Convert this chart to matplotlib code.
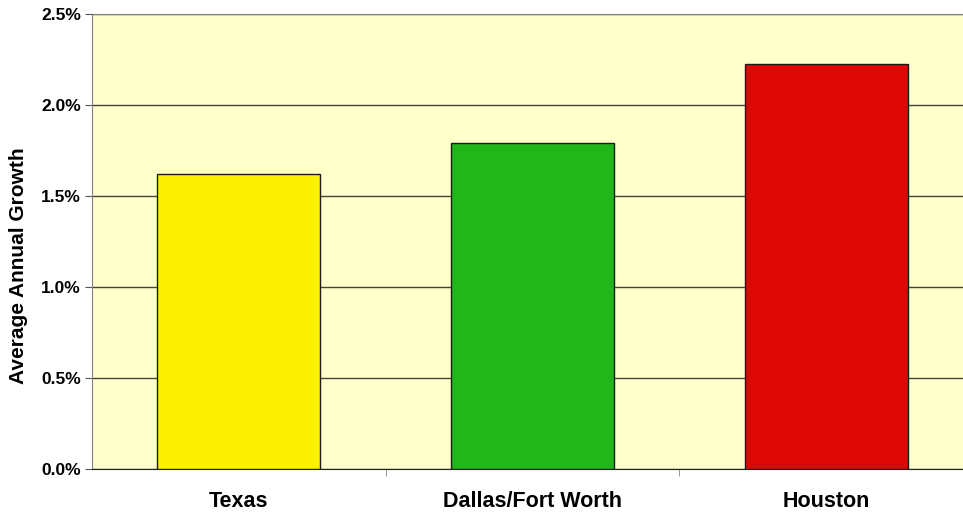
import matplotlib.pyplot as plt
from matplotlib.ticker import FuncFormatter, FixedLocator

# data
regions = ['Texas', 'Dallas/Fort Worth', 'Houston']
growth  = [1.62, 1.79, 2.225]
colors  = ['#FCF200', '#21B61A', '#DD0806']

plt.rcParams['font.family'] = ['Liberation Sans', 'DejaVu Sans']
plt.rcParams['font.weight'] = 'bold'

fig = plt.figure(figsize=(9.63, 5.14), dpi=100)
ax = fig.add_axes([0.0955, 0.0875, 0.915, 0.8853])
ax.set_facecolor('#FFFFCC')

x = range(len(regions))
ax.bar(x, growth, width=0.555, color=colors, edgecolor='#1a1a1a', linewidth=1, zorder=3)

ax.set_xlim(-0.5, len(regions) - 0.5)
ax.set_ylim(0, 2.5)
ax.set_yticks([0, 0.5, 1.0, 1.5, 2.0, 2.5])
ax.yaxis.set_major_formatter(FuncFormatter(lambda v, p: '{:.1f}%'.format(v)))
ax.grid(axis='y', color='#444433', linewidth=1, zorder=1)

# category labels between boundary ticks
ax.set_xticks(list(x))
ax.set_xticklabels(regions, fontsize=15.5, fontweight='bold')
ax.tick_params(axis='x', which='major', length=0, pad=16)
ax.xaxis.set_minor_locator(FixedLocator([0.5, 1.5]))
ax.tick_params(axis='x', which='minor', length=5, color='#888888', direction='out')
ax.tick_params(axis='y', length=5, color='#555555', labelsize=12.5, pad=3)

for s in ['left', 'top']:
	ax.spines[s].set_color('#808080')
ax.spines['right'].set_visible(False)
ax.spines['bottom'].set_color('#222222')

ax.set_ylabel('Average Annual Growth', fontsize=15, fontweight='bold')
ax.yaxis.set_label_coords(-0.073, 0.446)

fig.savefig('out.png', dpi=100)
